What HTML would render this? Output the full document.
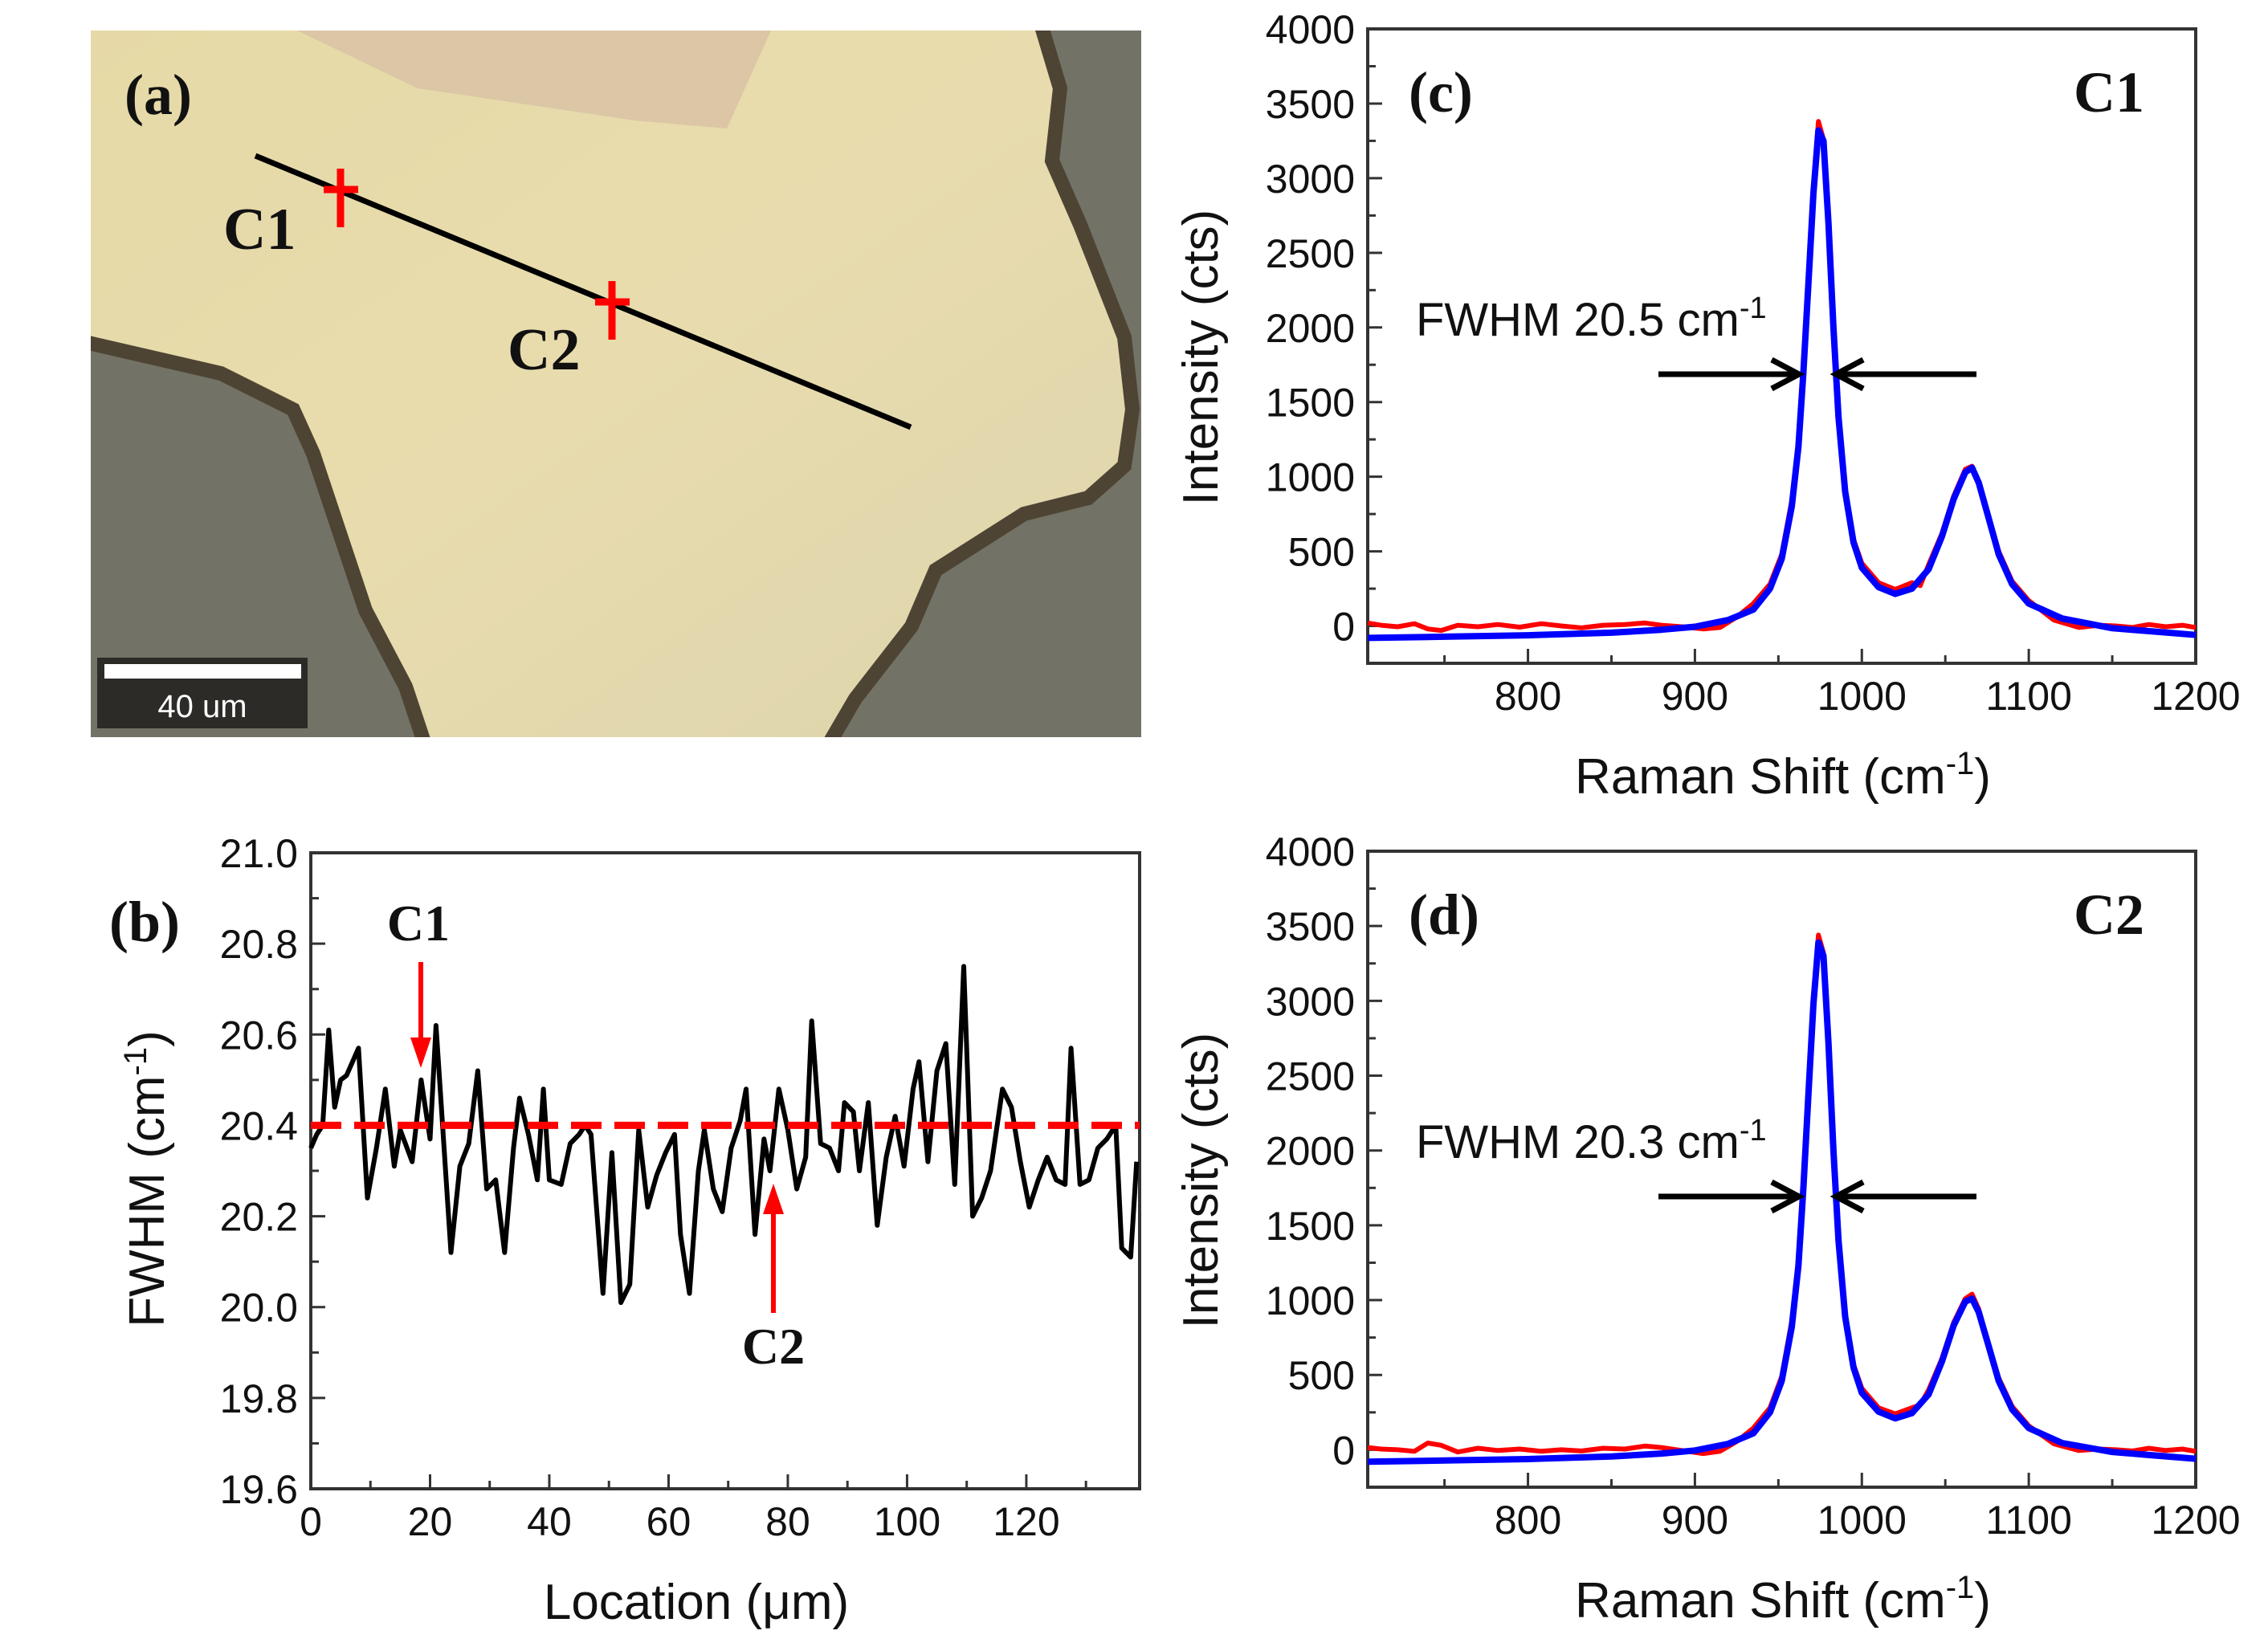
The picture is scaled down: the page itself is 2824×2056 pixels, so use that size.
<!DOCTYPE html>
<html><head><meta charset="utf-8"><style>
html,body{margin:0;padding:0;background:#fff}
svg{display:block}
.tick{font-family:"Liberation Sans",sans-serif;font-size:50px;fill:#111}
.ttl{font-family:"Liberation Sans",sans-serif;font-size:62px;fill:#111}
.lab{font-family:"Liberation Serif",serif;font-weight:bold;font-size:72px;fill:#111}
</style></head><body>
<svg id="fig" width="2824" height="2056" viewBox="0 0 2824 2056" xmlns="http://www.w3.org/2000/svg">
<defs>
<linearGradient id="fl" x1="0" y1="0" x2="1" y2="1"><stop offset="0" stop-color="#e6d9a6"/><stop offset="0.5" stop-color="#e8dcae"/><stop offset="1" stop-color="#ddd4ac"/></linearGradient>
<clipPath id="photoclip"><rect x="113" y="38" width="1308" height="880"/></clipPath>
</defs>
<g>
<g clip-path="url(#photoclip)">
<rect x="113" y="38" width="1308" height="880" fill="#737266"/>
<polygon points="80,10 1290,10 1320,110 1310,200 1345,280 1400,420 1410,510 1400,580 1355,620 1275,640 1165,710 1135,780 1065,870 1030,930 530,930 505,855 455,760 390,565 365,510 275,465 80,420" fill="url(#fl)" stroke="#4e4434" stroke-width="18"/>
<polygon points="370,38 960,38 905,160 790,150 520,110" fill="#d8c1a5" opacity="0.8"/>
</g>
<line x1="318" y1="194" x2="1134" y2="532" stroke="#000" stroke-width="7"/>
<g fill="none" stroke="#f00" stroke-width="9"><line x1="403" y1="236" x2="446" y2="236"/><line x1="424" y1="210" x2="424" y2="283"/></g>
<g fill="none" stroke="#f00" stroke-width="9"><line x1="741" y1="376" x2="784" y2="376"/><line x1="762" y1="350" x2="762" y2="423"/></g>
<text class="lab" x="278" y="310" style="font-size:74px">C1</text>
<text class="lab" x="632" y="460" style="font-size:74px">C2</text>
<text class="lab" x="155" y="142">(a)</text>
<rect x="121" y="819" width="262" height="88" fill="#2c2b27"/>
<rect x="130" y="827" width="245" height="18" fill="#fff"/>
<text x="252" y="893" text-anchor="middle" style="font-family:'Liberation Sans',sans-serif;font-size:40px;fill:#fff">40 um</text>
</g>
<g id="charts"></g>
</svg>
<script>
// Panel (b) data
const bX = [0,1,2,3,4,5,6,8,9.5,11,12.5,14,15,17,18.5,20,21,23.5,25,26.5,28,29.5,31,32.5,34,35,36.5,38,39,40,42,43.5,45,46,47,49,50.5,52,53.5,55,56.5,58,59.5,61,62,63.5,65,66,67.5,69,70.5,72,73,74.5,76,77,78.5,80,81.5,83,84,85.5,87,88.5,89.5,91,92,93.5,95,96.5,98,99.5,101,102,103.5,105,106.5,108,109.5,111,112.5,114,116,117.5,119,120.5,122,123.5,125,126.5,127.5,129,130.5,132,133.5,135,136,137.5,138.5];
const bY = [20.35,20.38,20.40,20.61,20.44,20.50,20.51,20.57,20.24,20.35,20.48,20.31,20.39,20.32,20.50,20.37,20.62,20.12,20.31,20.36,20.52,20.26,20.28,20.12,20.35,20.46,20.38,20.28,20.48,20.28,20.27,20.36,20.38,20.40,20.38,20.03,20.34,20.01,20.05,20.39,20.22,20.29,20.34,20.38,20.16,20.03,20.30,20.39,20.26,20.21,20.35,20.41,20.48,20.16,20.37,20.30,20.48,20.39,20.26,20.33,20.63,20.36,20.35,20.30,20.45,20.43,20.30,20.45,20.18,20.33,20.42,20.31,20.48,20.54,20.32,20.52,20.58,20.27,20.75,20.20,20.24,20.30,20.48,20.44,20.32,20.22,20.28,20.33,20.28,20.27,20.57,20.27,20.28,20.35,20.37,20.40,20.13,20.11,20.32];
const bMean = 20.4;
const bXTicks = [0,20,40,60,80,100,120];
const bYTicks = [19.6,19.8,20.0,20.2,20.4,20.6,20.8,21.0];
// Panel (c) data
const cBlueX = [704,750,800,850,880,900,920,935,945,952,958,962,965,968,971,974,977,980,983,986,990,995,1000,1010,1020,1030,1040,1048,1055,1062,1066,1070,1076,1082,1090,1100,1120,1150,1200];
const cBlueY = [-80,-72,-62,-45,-25,-5,40,110,250,450,800,1200,1700,2300,2900,3320,3250,2700,2000,1400,900,560,390,260,215,250,380,600,850,1030,1060,960,720,480,280,150,50,-15,-60];
const cRedX = [704,712,722,732,740,748,758,770,782,795,808,820,832,845,858,870,880,892,905,915,925,935,945,952,958,962,965,968,971,974,977,980,983,986,990,995,1000,1010,1020,1030,1035,1040,1048,1055,1062,1066,1070,1076,1082,1090,1100,1115,1130,1142,1152,1162,1172,1182,1192,1200];
const cRedY = [20,5,-5,15,-20,-30,5,-5,10,-8,15,0,-12,5,10,20,5,-5,-20,-10,60,150,280,480,840,1230,1720,2320,2940,3380,3260,2680,1980,1390,910,580,420,290,245,290,270,410,620,870,1050,1070,970,730,500,300,170,40,-10,5,0,-10,10,-5,5,-10];
// Panel (d) data
const dBlueX = cBlueX;
const dBlueY = [-80,-72,-62,-45,-25,-5,40,110,250,460,820,1230,1750,2380,2980,3390,3300,2720,2000,1400,890,550,380,255,210,245,370,590,830,990,1010,920,690,460,270,145,45,-15,-60];
const dRedX = cRedX;
const dRedY = [15,5,0,-10,45,30,-15,10,-5,5,-10,0,-8,10,5,25,15,-5,-25,-10,55,145,280,490,860,1260,1760,2400,3000,3440,3320,2740,2010,1410,900,570,410,280,240,280,300,400,610,850,1010,1040,940,700,480,290,160,40,-5,5,0,-8,10,-5,5,-10];
const ramanXTicks = [800,900,1000,1100,1200];
const intYTicks = [0,500,1000,1500,2000,2500,3000,3500,4000];

const NS = "http://www.w3.org/2000/svg";
const root = document.getElementById('charts');
function mk(tag, attrs, parent) {
  const e = document.createElementNS(NS, tag);
  for (const k in attrs) e.setAttribute(k, attrs[k]);
  (parent || root).appendChild(e);
  return e;
}
function axes(g, box, xmin, xmax, ymin, ymax, xt, yt, xMinor, yMinor, fmtY) {
  const sx = v => box.l + (v - xmin) / (xmax - xmin) * (box.r - box.l);
  const sy = v => box.b - (v - ymin) / (ymax - ymin) * (box.b - box.t);
  const frame = mk('rect', {x: box.l, y: box.t, width: box.r - box.l, height: box.b - box.t, fill: 'none', stroke: '#333', 'stroke-width': 4}, g);
  
  
  for (let v = Math.ceil(xmin / xMinor) * xMinor; v <= xmax + 1e-9; v += xMinor) {
    const major = xt.some(t => Math.abs(t - v) < 1e-6);
    const tk = mk('line', {x1: sx(v), x2: sx(v), y1: box.b, y2: box.b - (major ? 18 : 10), stroke: '#333', 'stroke-width': 3}, g);
    
    
  }
  for (let v = Math.ceil((ymin - 1e-9) / yMinor) * yMinor; v <= ymax + 1e-9; v += yMinor) {
    const major = yt.some(t => Math.abs(t - v) < 1e-6);
    const tk = mk('line', {x1: box.l, x2: box.l + (major ? 18 : 10), y1: sy(v), y2: sy(v), stroke: '#333', 'stroke-width': 3}, g);
    
    
  }
  xt.forEach(v => {
    const t = mk('text', {x: sx(v), y: box.b + 58, 'text-anchor': 'middle', class: 'tick'}, g);
    t.textContent = v;
    
    
  });
  yt.forEach(v => {
    const t = mk('text', {x: box.l - 16, y: sy(v) + 18, 'text-anchor': 'end', class: 'tick'}, g);
    t.textContent = fmtY(v);
    
    
  });
  return {sx, sy};
}
function line(g, xs, ys, s, color, w, name) {
  const d = xs.map((x, i) => (i ? 'L' : 'M') + s.sx(x).toFixed(1) + ',' + s.sy(ys[i]).toFixed(1)).join('');
  const p = mk('path', {d: d, fill: 'none', stroke: color, 'stroke-width': w, 'stroke-linejoin': 'round'}, g);
  
  
  return p;
}
function txt(g, x, y, str, cls, name, extra) {
  const t = mk('text', Object.assign({x: x, y: y, class: cls}, extra || {}), g);
  t.innerHTML = str;
  
  
  return t;
}
function arrow(g, x1, x2, y, name) {
  const a = mk('g', {}, g);
  
  
  mk('line', {x1: x1, x2: x2, y1: y, y2: y, stroke: '#000', 'stroke-width': 7}, a);
  const dir = x2 > x1 ? 1 : -1;
  mk('path', {d: `M${x2 - dir * 34},${y - 18} L${x2},${y} L${x2 - dir * 34},${y + 18}`, fill: 'none', stroke: '#000', 'stroke-width': 7}, a);
}

// Panel b
const gb = mk('g', {});


const sb = axes(gb, {l: 387, r: 1419, t: 1062, b: 1854}, 0, 139, 19.6, 21.0, bXTicks, bYTicks, 10, 0.1, v => v.toFixed(1));
line(gb, bX, bY, sb, '#000', 6, 'fwhm-line');
const mean = mk('line', {x1: sb.sx(0), x2: sb.sx(139), y1: sb.sy(bMean), y2: sb.sy(bMean), stroke: '#f00', 'stroke-width': 9, 'stroke-dasharray': '38,16'}, gb);


txt(gb, 136, 1172, '(b)', 'lab', 'panel-b-label');
txt(gb, 521, 1171, 'C1', 'lab', 'c1-annotation', {'text-anchor': 'middle', style: 'font-size:64px'});
const ar1 = mk('g', {}, gb);


mk('line', {x1: 524, x2: 524, y1: 1198, y2: 1300, stroke: '#f00', 'stroke-width': 6}, ar1);
mk('path', {d: 'M511,1292 L524,1330 L537,1292 Z', fill: '#f00'}, ar1);
const ar2 = mk('g', {}, gb);


mk('line', {x1: 963, x2: 963, y1: 1635, y2: 1505, stroke: '#f00', 'stroke-width': 6}, ar2);
mk('path', {d: 'M950,1512 L963,1474 L976,1512 Z', fill: '#f00'}, ar2);
txt(gb, 963, 1698, 'C2', 'lab', 'c2-annotation', {'text-anchor': 'middle', style: 'font-size:64px'});
txt(gb, 867, 2016, 'Location (μm)', 'ttl', 'x-axis-title-b', {'text-anchor': 'middle'});
txt(gb, 0, 0, 'FWHM (cm<tspan dy="-22" style="font-size:40px">-1</tspan><tspan dy="22">)</tspan>', 'ttl', 'y-axis-title-b', {'text-anchor': 'middle', transform: 'translate(204,1468) rotate(-90)'});

// Panel c and d
function spectrum(name, top, bot, bx, by, rx, ry, lab, cl, fw) {
  const g = mk('g', {});
  
  
  const s = axes(g, {l: 1703, r: 2734, t: top, b: bot}, 704, 1200, -250, 4000, ramanXTicks, intYTicks, 50, 250, v => v);
  line(g, rx, ry, s, '#f00', 6, 'measured-spectrum-red');
  line(g, bx, by, s, '#00f', 8, 'fit-spectrum-blue');
  txt(g, 1754, top + 103, lab, 'lab', 'panel-label');
  txt(g, 2670, top + 103, cl, 'lab', 'point-label', {'text-anchor': 'end'});
  txt(g, 1763, top + 382, 'FWHM ' + fw + ' cm<tspan dy="-22" style="font-size:38px">-1</tspan>', 'ttl', 'fwhm-annotation', {style: 'font-size:58px'});
  arrow(g, 2065, 2240, top + 430, 'fwhm-arrow-left');
  arrow(g, 2461, 2286, top + 430, 'fwhm-arrow-right');
  txt(g, 2220, bot + 162, 'Raman Shift (cm<tspan dy="-24" style="font-size:40px">-1</tspan><tspan dy="24">)</tspan>', 'ttl', 'x-axis-title', {'text-anchor': 'middle'});
  txt(g, 0, 0, 'Intensity (cts)', 'ttl', 'y-axis-title', {'text-anchor': 'middle', transform: `translate(1516,${(top + bot) / 2 + 14}) rotate(-90)`});
}
spectrum('panel-c-spectrum-c1', 36, 826, cBlueX, cBlueY, cRedX, cRedY, '(c)', 'C1', '20.5');
spectrum('panel-d-spectrum-c2', 1060, 1852, dBlueX, dBlueY, dRedX, dRedY, '(d)', 'C2', '20.3');
</script>
</body></html>
